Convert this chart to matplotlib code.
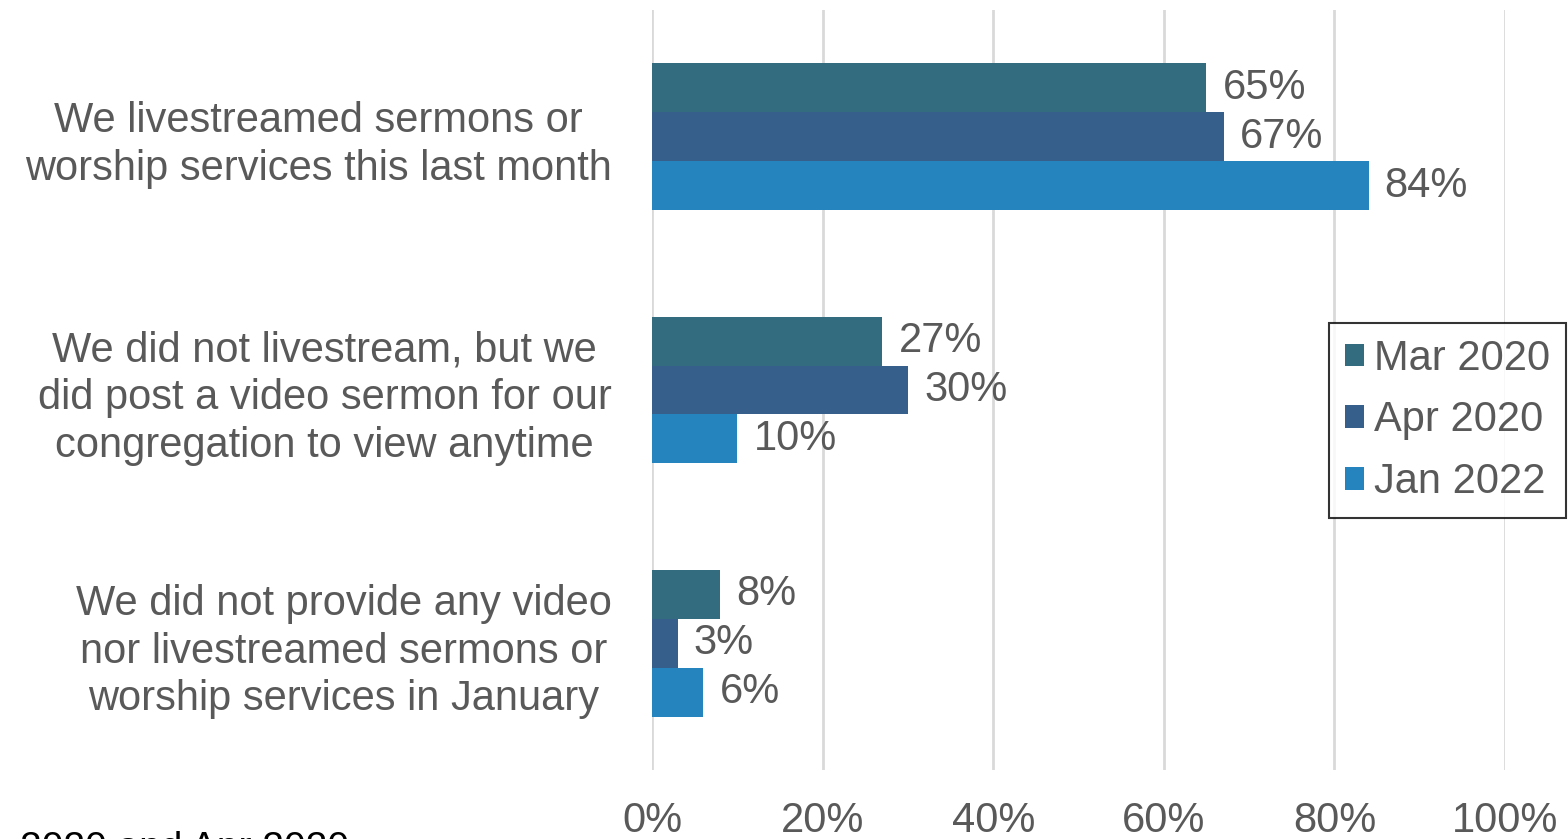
import numpy as np
import matplotlib
matplotlib.use("Agg")
from matplotlib import pyplot as plt

categories = ["We livestreamed sermons or\nworship services this last month",
              "We did not livestream, but we\ndid post a video sermon for our\ncongregation to view anytime",
              "We did not provide any video\nnor livestreamed sermons or\nworship services in January"]
series_names = ["Mar 2020", "Apr 2020", "Jan 2022"]
mar_2020 = [65, 27, 8]
apr_2020 = [67, 30, 3]
jan_2022 = [84, 10, 6]
colors = ["#336C7E", "#365F8C", "#2584BE"]
xticks = [0, 20, 40, 60, 80, 100]

plt.rcParams['font.family'] = ['Liberation Sans', 'DejaVu Sans']
grey = "#595959"

fig = plt.figure(figsize=(15.68, 8.39), dpi=100)
ax = fig.add_axes([652 / 1568, 1 - 770 / 839, (1505 - 652) / 1568, 760 / 839])

y = np.arange(len(categories))
h = 0.193
for i, (vals, name, c) in enumerate(zip([mar_2020, apr_2020, jan_2022], series_names, colors)):
    pos = y + (i - 1) * h
    ax.barh(pos, vals, height=h, color=c, label=name, zorder=3)
    for p, v in zip(pos, vals):
        ax.text(v + 1.9, p, f"{v}%", va='center', ha='left', fontsize=30, color=grey)

ax.set_ylim(2.5, -0.5)
ax.set_xlim(0, 100)
ax.set_yticks(y)
ax.set_yticklabels(categories, fontsize=30, color=grey, multialignment='center', linespacing=1.25)
ax.set_xticks(xticks)
ax.set_xticklabels([f"{t}%" for t in xticks], fontsize=30, color=grey)
ax.tick_params(axis='both', length=0)
ax.tick_params(axis='y', pad=29)
ax.tick_params(axis='x', pad=22)
for s in ax.spines.values():
    s.set_visible(False)
ax.grid(axis='x', color='#D9D9D9', linewidth=2, zorder=0)
ax.set_axisbelow(True)

leg = ax.legend(loc='upper right', bbox_to_anchor=(1566 / 1568, 1 - 323 / 839),
                bbox_transform=fig.transFigure, fontsize=30, frameon=True, fancybox=False,
                edgecolor='black', handlelength=0.45, handleheight=0.45, handletextpad=0.25,
                labelspacing=0.52, borderpad=0.38, borderaxespad=0)
leg.get_frame().set_linewidth(1.5)
for t in leg.get_texts():
    t.set_color(grey)

fig.text(20 / 1568, 1 - 831 / 839, "2020 and Apr 2020", fontsize=28, color='black', va='top', ha='left')

fig.savefig("out.png", dpi=100)
